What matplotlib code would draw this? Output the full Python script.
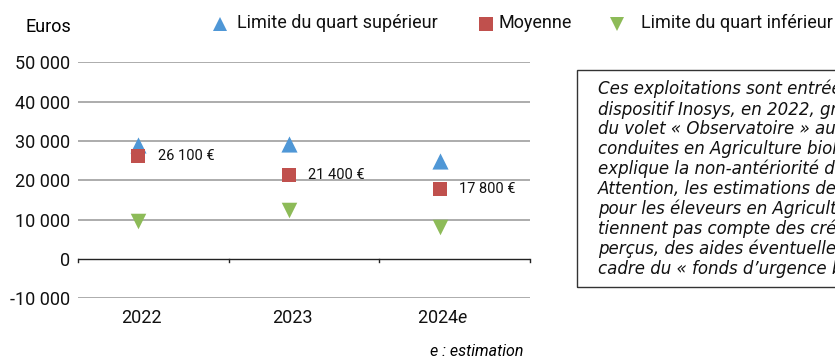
import matplotlib.pyplot as plt
import matplotlib.ticker as mticker
from matplotlib.lines import Line2D
from matplotlib.patches import Rectangle
from matplotlib.transforms import ScaledTranslation

plt.rcParams['font.family'] = ['Roboto', 'DejaVu Sans']
plt.rcParams['mathtext.fontset'] = 'custom'
plt.rcParams['mathtext.it'] = 'Roboto:italic'
plt.rcParams['mathtext.rm'] = 'Roboto'

# Revenu par exploitation (euros)
years = ['2022', '2023', '2024$e$']
upper_quartile = [28900, 29200, 25000]
mean_income = [26100, 21400, 17800]
lower_quartile = [9500, 12300, 8200]
mean_labels = ['26 100 €', '21 400 €', '17 800 €']

y_ticks = [-10000, 0, 10000, 20000, 30000, 40000, 50000]

note_lines = [
    "Ces exploitations sont entrées dans le",
    "dispositif Inosys, en 2022, grâce à la création",
    "du volet « Observatoire » aux exploitations",
    "conduites en Agriculture biologique, ce qui",
    "explique la non-antériorité des données.",
    "Attention, les estimations de revenu 2024",
    "pour les éleveurs en Agriculture biologique ne",
    "tiennent pas compte des crédits d’impôts",
    "perçus, des aides éventuelles dans le",
    "cadre du « fonds d’urgence bio ».",
]

BLUE = '#4f97d6'
RED = '#c0504d'
GREEN = '#8dbb58'
GRID = '#a6a6a6'

fig = plt.figure(figsize=(8.35, 3.6), dpi=100)
ax = fig.add_axes([0.0934, 0.1722, 0.5413, 0.6542])

x = list(range(len(years)))

# points sit a little left of the category centre
shift = ax.transData + ScaledTranslation(-15 / 100, 0, fig.dpi_scale_trans)

ax.scatter(x, upper_quartile, marker='^', s=135, color=BLUE, zorder=3,
           linewidths=0, transform=shift)
ax.scatter(x, mean_income, marker='s', s=100, color=RED, zorder=3,
           linewidths=0, transform=shift)
ax.scatter(x, lower_quartile, marker='v', s=125, color=GREEN, zorder=3,
           linewidths=0, transform=shift)

for xi, val, lab in zip(x, mean_income, mean_labels):
    ax.annotate(lab, (xi, val), xycoords=shift, xytext=(14, 0),
                textcoords='offset points', va='center', ha='left',
                fontsize=10.5, color='#111111')

ax.set_xlim(-0.5, len(years) - 0.5)
ax.set_ylim(-10000, 50000)

# horizontal gridlines, zero line drawn as dark axis
for t in y_ticks:
    if t == 0:
        ax.axhline(t, color='#222222', lw=1.0, zorder=2)
    else:
        ax.axhline(t, color=GRID, lw=1.3, zorder=1)
for b in [-0.5, 0.5, 1.5, 2.5]:
    ax.plot([b, b], [0, -700], color='#222222', lw=1.0, clip_on=False)

for s in ax.spines.values():
    s.set_visible(False)

ax.set_yticks(y_ticks)
ax.yaxis.set_major_formatter(mticker.FuncFormatter(
    lambda v, p: f"{int(v):,}".replace(',', ' ')))
ax.set_xticks(x)
ax.set_xticklabels(years)
ax.tick_params(axis='both', length=0, labelsize=13, colors='#111111')
ax.tick_params(axis='y', pad=5.8)
ax.tick_params(axis='x', pad=8)
for lbl in ax.get_xticklabels():
    lbl.set_transform(lbl.get_transform()
                      + ScaledTranslation(-12 / 100, 0, fig.dpi_scale_trans))

fig.text(0.031, 0.924, 'Euros', fontsize=13, va='center', ha='left')

# legend row along the top
legend_items = [
    ('^', BLUE, 'Limite du quart supérieur', 0.2635, 0.2838, 10.5),
    ('s', RED, 'Moyenne', 0.582, 0.5976, 9.8),
    ('v', GREEN, 'Limite du quart inférieur', 0.739, 0.7677, 10.5),
]
for mk, col, lab, mx, tx, ms in legend_items:
    fig.add_artist(Line2D([mx], [0.933], marker=mk, color=col, markersize=ms,
                          markeredgewidth=0, linestyle='none',
                          transform=fig.transFigure))
    fig.text(tx, 0.936, lab, fontsize=13, va='center', ha='left',
             color='#111111')

fig.text(0.627, 0.024, 'e : estimation', ha='right', va='center',
         fontsize=11.5, style='italic')

# note box on the right; the text runs off the page edge
fig.patches.append(Rectangle((0.691, 0.203), 0.4, 0.603,
                             transform=fig.transFigure, fill=False,
                             edgecolor='#333333', lw=1.0))
fig.text(0.716, 0.778, '\n'.join(note_lines), fontsize=12,
         family='DejaVu Sans', style='italic', va='top', ha='left',
         linespacing=1.115, color='#111111')

fig.savefig('out.png', dpi=100, facecolor='white')
